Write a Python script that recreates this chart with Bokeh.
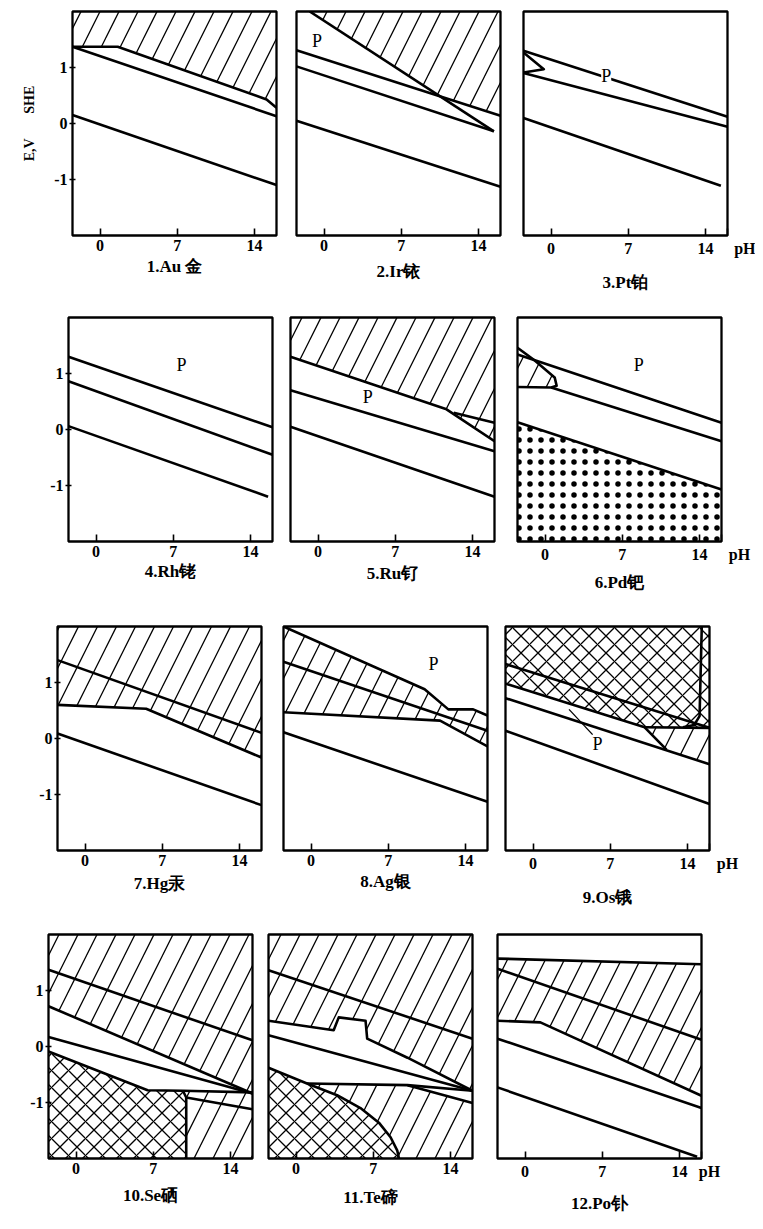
from bokeh.plotting import figure
from bokeh.layouts import row, column
from bokeh.models import Label, Range1d, FixedTicker, Title
from bokeh.embed import file_html
from bokeh.resources import INLINE

# ---------------- data (pH, E in V vs SHE) ----------------
PH_MIN, PH_MAX = -2.5, 16.0
E_MIN, E_MAX = -2.0, 2.0
PH_TICKS = [0, 7, 14]
E_TICKS = [-1, 0, 1]
E_TICK_LABELS = {-1: "-1", 0: "0", 1: "1"}
E_AXIS_TITLE = "E,V\u00a0\u00a0\u00a0\u00a0\u00a0\u00a0\u00a0SHE"
PH_NAME = "pH"

TITLES = ["1.Au 金", "2.Ir铱", "3.Pt铂", "4.Rh铑", "5.Ru钌", "6.Pd钯",
          "7.Hg汞", "8.Ag银", "9.Os锇", "10.Se硒", "11.Te碲", "12.Po钋"]

# 1 Au
AU_LINES = [([-2.5, 1.6, 15.1, 16.0], [1.37, 1.37, 0.43, 0.28]),
            ([-2.5, 16.0], [1.37, 0.13]),
            ([-2.5, 16.0], [0.15, -1.10])]
AU_HATCH = [([-2.5, 16.0, 16.0, 15.1, 1.6, -2.5], [2.0, 2.0, 0.28, 0.43, 1.37, 1.37])]

# 2 Ir
IR_LINES = [([-1.3, 15.4], [2.0, -0.14]),
            ([-2.5, 16.0], [1.31, 0.14]),
            ([-2.5, 15.4], [1.02, -0.14]),
            ([-2.5, 16.0], [0.05, -1.13])]
IR_HATCH = [([-1.3, 16.0, 16.0, 10.53], [2.0, 2.0, 0.14, 0.48])]
IR_MARKS = [(-0.65, 1.48)]

# 3 Pt
PT_LINES = [([-2.5, 16.0], [1.30, 0.12]),
            ([-2.5, 16.0], [0.90, -0.06]),
            ([-2.5, -0.66, -2.5], [1.27, 0.97, 0.91]),
            ([-2.5, 15.4], [0.10, -1.11])]
PT_MARKS = [(5.0, 0.84)]

# 4 Rh
RH_LINES = [([-2.5, 16.0], [1.30, 0.04]),
            ([-2.5, 16.0], [0.86, -0.45]),
            ([-2.5, 15.6], [0.06, -1.20])]
RH_MARKS = [(7.75, 1.15)]

# 5 Ru
RU_LINES = [([-2.5, 11.65, 16.0], [1.30, 0.36, -0.21]),
            ([12.3, 16.0], [0.30, 0.12]),
            ([-2.5, 16.0], [0.70, -0.39]),
            ([-2.5, 16.0], [0.05, -1.20])]
RU_HATCH = [([-2.5, 16.0, 16.0, 11.65, -2.5], [2.0, 2.0, -0.21, 0.36, 1.30])]
RU_MARKS = [(4.5, 0.58)]

# 6 Pd
PD_LINES = [([-2.5, -0.99, 16.0], [1.46, 1.24, 0.12]),
            ([-2.5, -0.99, 0.87, 1.05, 0.56, -2.5], [1.34, 1.24, 0.93, 0.78, 0.75, 0.76]),
            ([0.56, 16.0], [0.75, -0.21]),
            ([-2.5, 16.0], [0.13, -1.07])]
PD_HATCH = [([-2.5, -0.99, 0.87, 1.05, 0.56, -2.5], [1.34, 1.24, 0.93, 0.78, 0.75, 0.76])]
PD_DOTS = [([-2.5, 16.0, 16.0, -2.5], [0.13, -1.07, -2.0, -2.0])]
PD_MARKS = [(8.5, 1.16)]

# 7 Hg
HG_LINES = [([-2.5, 5.54, 16.0], [0.60, 0.53, -0.34]),
            ([-2.5, 16.0], [1.40, 0.10]),
            ([-2.5, 16.0], [0.09, -1.19])]
HG_HATCH = [([-2.5, 16.0, 16.0, 5.54, -2.5], [2.0, 2.0, -0.34, 0.53, 0.60])]

# 8 Ag
AG_LINES = [([-2.5, 10.3, 12.45, 14.7, 16.0], [2.0, 0.88, 0.52, 0.52, 0.41]),
            ([-2.5, 11.7, 16.0], [0.47, 0.32, -0.14]),
            ([-2.5, 16.0], [1.37, 0.14]),
            ([-2.5, 16.0], [0.11, -1.13])]
AG_HATCH = [([-2.5, 10.3, 12.45, 14.7, 16.0, 16.0, 11.7, -2.5],
             [2.0, 0.88, 0.52, 0.52, 0.41, -0.14, 0.32, 0.47])]
AG_MARKS = [(11.1, 1.33)]

# 9 Os
OS_LINES = [([-2.5, 16.0], [1.33, 0.19]),
            ([-2.5, 10.12, 12.1], [0.98, 0.20, -0.20]),
            ([10.12, 16.0], [0.20, 0.19]),
            ([-2.5, 16.0], [0.72, -0.46]),
            ([-2.5, 16.0], [0.14, -1.17]),
            ([15.3, 15.1, 14.6, 13.6], [2.0, 0.40, 0.24, 0.20])]
OS_CROSS = [([-2.5, 16.0, 16.0, 10.12, -2.5], [2.0, 2.0, 0.19, 0.20, 0.98])]
OS_HATCH = [([10.12, 16.0, 16.0, 12.1], [0.20, 0.19, -0.46, -0.20])]
OS_POINTER = [([3.26, 5.4], [0.52, 0.07])]
OS_MARKS = [(5.85, -0.10)]

# 10 Se
SE_LINES = [([-2.5, 16.0], [1.37, 0.11]),
            ([-2.5, 16.0], [0.72, -0.84]),
            ([-2.5, 16.0], [0.17, -0.84]),
            ([-2.5, 6.49, 9.69, 16.0], [-0.09, -0.78, -0.79, -0.82]),
            ([9.69, 9.99, 9.99], [-0.79, -0.91, -2.0]),
            ([9.99, 16.0], [-0.91, -1.12])]
SE_HATCH = [([-2.5, 16.0, 16.0, -2.5], [2.0, 2.0, -0.84, 0.72]),
            ([9.69, 16.0, 16.0, 9.99, 9.99], [-0.79, -0.82, -2.0, -2.0, -0.91])]
SE_CROSS = [([-2.5, 6.49, 9.69, 9.99, 9.99, -2.5], [-0.09, -0.78, -0.79, -0.91, -2.0, -2.0])]

# 11 Te
TE_STEP_PH = [-2.5, 3.41, 3.87, 6.3, 6.45, 10.1, 16.0]
TE_STEP_E = [0.46, 0.29, 0.52, 0.46, 0.14, -0.20, -0.79]
TE_ARC_PH = [-2.5, 0.99, 3.72, 5.84, 7.51, 8.57, 9.18, 9.33]
TE_ARC_E = [-0.38, -0.66, -0.87, -1.10, -1.36, -1.62, -1.86, -2.0]
TE_LINES = [(TE_STEP_PH, TE_STEP_E),
            ([-2.5, 16.0], [1.36, 0.14]),
            ([-2.5, 16.0], [0.20, -0.79]),
            (TE_ARC_PH, TE_ARC_E),
            ([0.99, 10.1, 16.0], [-0.66, -0.69, -1.01]),
            ([10.1, 16.0], [-0.69, -0.79])]
TE_HATCH = [([-2.5, 16.0] + TE_STEP_PH[::-1], [2.0, 2.0] + TE_STEP_E[::-1]),
            ([0.99, 10.1, 16.0, 16.0] + TE_ARC_PH[:0:-1],
             [-0.66, -0.69, -1.01, -2.0] + TE_ARC_E[:0:-1])]
TE_CROSS = [(TE_ARC_PH + [-2.5], TE_ARC_E + [-2.0])]

# 12 Po
PO_LINES = [([-2.5, 16.0], [1.57, 1.47]),
            ([-2.5, 16.0], [1.39, 0.12]),
            ([-2.5, 1.39, 16.0], [0.46, 0.43, -0.88]),
            ([-2.5, 16.0], [0.14, -1.10]),
            ([-2.5, 15.6], [-0.73, -1.97])]
PO_HATCH = [([-2.5, 16.0, 16.0, 1.39, -2.5], [1.57, 1.47, -0.88, 0.43, 0.46])]

PANELS = [
    dict(lines=AU_LINES, hatch=AU_HATCH),
    dict(lines=IR_LINES, hatch=IR_HATCH, marks=IR_MARKS),
    dict(lines=PT_LINES, marks=PT_MARKS, boxed=True),
    dict(lines=RH_LINES, marks=RH_MARKS),
    dict(lines=RU_LINES, hatch=RU_HATCH, marks=RU_MARKS),
    dict(lines=PD_LINES, hatch=PD_HATCH, dots=PD_DOTS, marks=PD_MARKS),
    dict(lines=HG_LINES, hatch=HG_HATCH),
    dict(lines=AG_LINES, hatch=AG_HATCH, marks=AG_MARKS),
    dict(lines=OS_LINES, hatch=OS_HATCH, cross=OS_CROSS, thin=OS_POINTER, marks=OS_MARKS),
    dict(lines=SE_LINES, hatch=SE_HATCH, cross=SE_CROSS),
    dict(lines=TE_LINES, hatch=TE_HATCH, cross=TE_CROSS),
    dict(lines=PO_LINES, hatch=PO_HATCH),
]

# ---------------- layout ----------------
# per panel: min borders (left, right) ; per row: (top, bottom)
SIDE = [(72, 8), (12, 8), (15, 28),
        (68, 8), (10, 8), (15, 34),
        (57, 8), (14, 8), (10, 46),
        (48, 8), (8, 8), (17, 54)]
ROW_TB = [(11, 65), (15, 69), (16, 67), (17, 63)]
TITLE_OFFSET = [-30, -13, 0, -6, -27, -7, -4, 3, -1, -2, -3, -10]
TITLE_STANDOFF = [2, 12, 22, 0, 5, 11, 6, 2, 22, 14, 19, 19]
PH_PAD = [9, 9, 9, 4]

SERIF = "Liberation Serif"


def make_panel(i):
    d = PANELS[i]
    mbl, mbr = SIDE[i]
    mbt, mbb = ROW_TB[i // 3]
    p = figure(frame_width=204, frame_height=224,
               x_range=Range1d(PH_MIN, PH_MAX), y_range=Range1d(E_MIN, E_MAX),
               output_backend="svg", toolbar_location=None,
               min_border_left=mbl, min_border_right=mbr,
               min_border_top=mbt, min_border_bottom=mbb)
    p.background_fill_color = "white"
    p.border_fill_color = "white"
    p.outline_line_color = "black"
    p.outline_line_width = 2.3
    p.xgrid.visible = False
    p.ygrid.visible = False

    xa = p.xaxis[0]
    ticks = list(PH_TICKS)
    if i % 3 == 2:
        ticks.append(PH_MAX)
        xa.major_label_overrides = {PH_MAX: "\u00a0" * PH_PAD[i // 3] + PH_NAME}
    xa.ticker = FixedTicker(ticks=ticks)
    xa.axis_line_color = None
    xa.major_tick_in = 7
    xa.major_tick_out = 0
    xa.major_tick_line_width = 1.6
    xa.major_tick_line_color = "black"
    xa.minor_tick_line_color = None
    xa.major_label_standoff = 4
    xa.major_label_text_font = SERIF
    xa.major_label_text_font_style = "bold"
    xa.major_label_text_font_size = "16px"
    xa.major_label_text_color = "black"

    ya = p.yaxis[0]
    if i % 3 == 0:
        ya.ticker = FixedTicker(ticks=E_TICKS)
        ya.major_label_overrides = E_TICK_LABELS
        ya.axis_line_color = None
        ya.major_tick_in = 3
        ya.major_tick_out = 3
        ya.major_tick_line_width = 1.4
        ya.major_tick_line_color = "black"
        ya.minor_tick_line_color = None
        ya.major_label_standoff = 2
        ya.major_label_text_font = SERIF
        ya.major_label_text_font_style = "bold"
        ya.major_label_text_font_size = "16px"
        ya.major_label_text_color = "black"
        if i == 0:
            ya.axis_label = E_AXIS_TITLE
            ya.axis_label_standoff = 14
            ya.axis_label_text_font = SERIF
            ya.axis_label_text_font_style = "bold"
            ya.axis_label_text_font_size = "14px"
            ya.axis_label_text_color = "black"
    else:
        ya.visible = False

    for xs, ys in d.get("hatch", []):
        p.patch(xs, ys, fill_color=None, line_color=None, hatch_pattern="/",
                hatch_scale=38, hatch_weight=1.3, hatch_color="black")
    for xs, ys in d.get("cross", []):
        p.patch(xs, ys, fill_color=None, line_color=None, hatch_pattern="x",
                hatch_scale=17, hatch_weight=1.3, hatch_color="black")
    for xs, ys in d.get("dots", []):
        p.patch(xs, ys, fill_color=None, line_color=None, hatch_pattern=".",
                hatch_scale=11, hatch_weight=1.0, hatch_color="black")

    lines = d.get("lines", [])
    p.multi_line([l[0] for l in lines], [l[1] for l in lines],
                 line_color="black", line_width=2.6, line_join="round")
    thin = d.get("thin", [])
    if thin:
        p.multi_line([l[0] for l in thin], [l[1] for l in thin],
                     line_color="black", line_width=1.3)

    for (mx, my) in d.get("marks", []):
        lab = Label(x=mx, y=my, text="P", text_align="center", text_baseline="middle",
                    text_font=SERIF, text_font_size="18px", text_color="black")
        if d.get("boxed"):
            lab.background_fill_color = "white"
            lab.background_fill_alpha = 1.0
        p.add_layout(lab)

    p.add_layout(Title(text=TITLES[i], align="center", offset=TITLE_OFFSET[i],
                       standoff=TITLE_STANDOFF[i], text_font=SERIF,
                       text_font_style="bold", text_font_size="17px",
                       text_color="black"), "below")
    return p


figs = [make_panel(i) for i in range(12)]
layout = column(*[row(*figs[r * 3:(r + 1) * 3]) for r in range(4)])

open("out.html", "w").write(file_html(layout, INLINE))
